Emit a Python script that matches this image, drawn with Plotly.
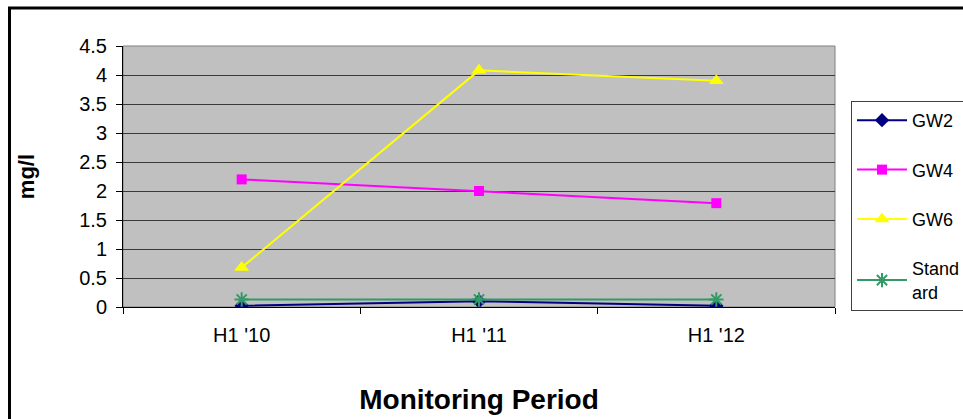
import plotly.graph_objects as go

periods = ["H1 '10", "H1 '11", "H1 '12"]
gw2 = [0.02, 0.10, 0.02]
gw4 = [2.20, 2.00, 1.79]
gw6 = [0.68, 4.08, 3.90]
standard = [0.13, 0.13, 0.13]
y_ticks = [0, 0.5, 1, 1.5, 2, 2.5, 3, 3.5, 4, 4.5]

W, H = 963, 419
# plot area in pixels
L, R, T, B = 123, 835, 46, 307
PW, PH = R - L, B - T


def px(x):
    return (x - L) / PW


def py(y):
    return (B - y) / PH


fig = go.Figure()

series = [
    ("GW2", gw2, "#000080", "diamond", 11),
    ("GW4", gw4, "#FF00FF", "square", 10),
    ("GW6", gw6, "#FFFF00", "triangle-up", 13),
    ("Stand<br>ard", standard, "#339966", "asterisk", 12),
]
for i, (name, vals, color, sym, size) in enumerate(series):
    marker = dict(symbol=sym, size=size, color=color)
    if sym == "asterisk":
        marker["line"] = dict(color=color, width=2)
    fig.add_trace(go.Scatter(
        x=periods, y=vals, name=name, mode="lines+markers",
        line=dict(color=color, width=2), marker=marker,
        legendgroup=f"g{i}",
    ))

fig.update_layout(
    width=W, height=H,
    margin=dict(l=L, r=W - R, t=T, b=H - B, autoexpand=False),
    paper_bgcolor="white",
    plot_bgcolor="#C0C0C0",
    font=dict(family="Liberation Sans, Arial, sans-serif", color="black"),
    showlegend=True,
    legend=dict(
        x=px(851), y=py(101), xanchor="left", yanchor="top",
        bordercolor="#404040", borderwidth=1, bgcolor="white",
        font=dict(size=18), traceorder="grouped", tracegroupgap=23,
        itemwidth=50,
    ),
    xaxis=dict(
        type="category", range=[-0.5, 2.5], automargin=False,
        tickson="boundaries", ticks="outside", ticklen=6, tickcolor="black",
        showline=True, linecolor="black", linewidth=1,
        showgrid=False, tickfont=dict(size=20), ticklabelstandoff=10,
        title=dict(text="<b>Monitoring Period</b>", font=dict(size=28), standoff=44),
    ),
    yaxis=dict(
        range=[0, 4.5], tickvals=y_ticks, automargin=False,
        ticktext=[f"{v:g}" for v in y_ticks],
        ticks="outside", ticklen=6, tickcolor="black",
        showline=True, linecolor="black", linewidth=1,
        showgrid=True, gridcolor="#3a3a3a", gridwidth=1,
        zeroline=False, tickfont=dict(size=20), ticklabelstandoff=5,
        title=dict(text="<b>mg/l</b>", font=dict(size=22), standoff=38),
    ),
    shapes=[
        # grey frame around the plotting area
        dict(type="rect", xref="paper", yref="paper", x0=0, x1=1, y0=0, y1=1,
             line=dict(color="#808080", width=1), layer="below"),
        # chart border: top and left edges
        dict(type="line", xref="paper", yref="paper",
             x0=px(8), x1=px(W + 5), y0=py(8), y1=py(8),
             line=dict(color="black", width=3)),
        dict(type="line", xref="paper", yref="paper",
             x0=px(9.5), x1=px(9.5), y0=py(7), y1=py(H + 5),
             line=dict(color="black", width=3)),
    ],
)

fig.write_html("out.html")
